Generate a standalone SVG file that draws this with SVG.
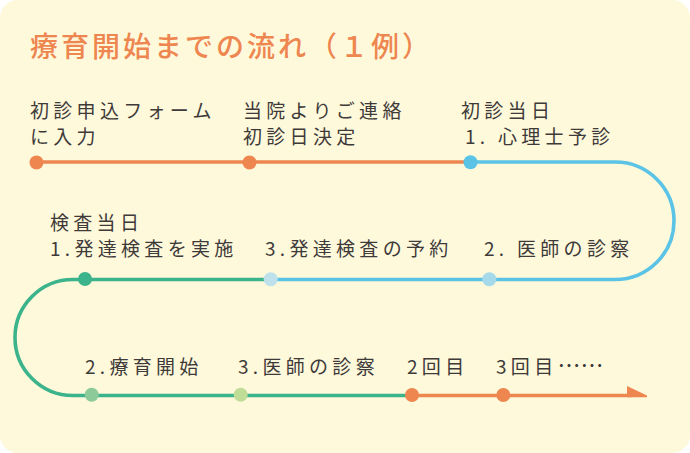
<svg xmlns="http://www.w3.org/2000/svg" width="690" height="453" viewBox="0 0 690 453">
<style>
.lbl{font-family:"Noto Sans CJK JP","Noto Sans",sans-serif;font-size:19px;letter-spacing:4.3px;fill:#3e3a39}
.ell{letter-spacing:0;font-size:23px}
.ttl{font-family:"Noto Sans CJK JP","Noto Sans",sans-serif;font-size:28px;letter-spacing:3px;fill:#ee8650;font-weight:500}
.ln{fill:none;stroke-width:3.6}
</style>
<rect x="0" y="0" width="690" height="453" fill="#ffffff"/>
<rect x="0" y="0" width="690" height="453" rx="18" fill="#fef9db"/>
<text class="ttl" x="30" y="57">療育開始までの流れ（１例）</text>
<g id="connectors">
<path class="ln" stroke="#ee8650" d="M36,162 H470"/>
<path class="ln" stroke="#5bc3e6" d="M470,162 H615.25 A58.75,58.75 0 0 1 615.25,279.5 H270"/>
<path class="ln" stroke="#3bb38b" d="M270,279.5 H73 A58,58 0 0 0 73,395.5 H410"/>
<path class="ln" stroke="#ee8650" d="M410,395.5 H632"/>
<polygon fill="#ee8650" points="627,386 647,395.5 647,397.3 627,397.3"/>
</g>
<g id="n1"><circle cx="36.5" cy="162.5" r="7" fill="#ee8650"/><text class="lbl" x="30" y="117.5">初診申込フォーム</text><text class="lbl" x="30" y="144">に入力</text></g>
<g id="n2"><circle cx="249.5" cy="162.5" r="7" fill="#ee8650"/><text class="lbl" x="243" y="117.5">当院よりご連絡</text><text class="lbl" x="243" y="144">初診日決定</text></g>
<g id="n3"><circle cx="470.5" cy="162.3" r="7" fill="#5bc3e6"/><text class="lbl" x="461" y="117.5">初診当日</text><text class="lbl" x="465" y="144">1. 心理士予診</text></g>
<g id="n4"><circle cx="489.3" cy="279.3" r="7" fill="#a6d9ea"/><text class="lbl" x="484" y="256">2. 医師の診察</text></g>
<g id="n5"><circle cx="270.7" cy="279.3" r="7" fill="#bee1ec"/><text class="lbl" x="265" y="256">3.発達検査の予約</text></g>
<g id="n6"><circle cx="85" cy="279" r="7" fill="#3bb38b"/><text class="lbl" x="50" y="229.5">検査当日</text><text class="lbl" x="50" y="256">1.発達検査を実施</text></g>
<g id="n7"><circle cx="91.7" cy="394.8" r="7" fill="#8dca9a"/><text class="lbl" x="85" y="373.5">2.療育開始</text></g>
<g id="n8"><circle cx="240.7" cy="394.8" r="7" fill="#c0dd97"/><text class="lbl" x="238" y="373.5">3.医師の診察</text></g>
<g id="n9"><circle cx="412" cy="395" r="7" fill="#ee8650"/><text class="lbl" x="407" y="373.5">2回目</text></g>
<g id="n10"><circle cx="503.3" cy="395" r="7" fill="#ee8650"/><text class="lbl" x="496" y="373.5">3回目<tspan class="ell">……</tspan></text></g>
</svg>
